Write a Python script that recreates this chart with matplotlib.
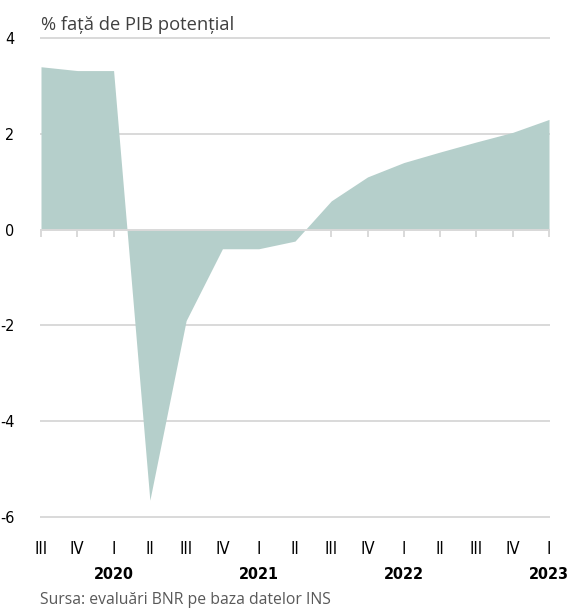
import matplotlib
matplotlib.use('Agg')
import matplotlib.pyplot as plt
import matplotlib.transforms as mtransforms

# date: deviatia PIB fata de potential, trimestrial
trimestre = ['III', 'IV', 'I', 'II', 'III', 'IV', 'I', 'II', 'III', 'IV', 'I', 'II', 'III', 'IV', 'I']
ani = ['2020', '2021', '2022', '2023']
ani_idx = [2, 6, 10, 14]
valori = [3.4, 3.32, 3.32, -5.65, -1.9, -0.4, -0.4, -0.24, 0.6, 1.1, 1.4, 1.62, 1.83, 2.03, 2.3]

narrow = dict(family='DejaVu Sans', stretch='condensed')
culoare = '#b5cfcb'
gri = '#d9d9d9'

fig = plt.figure(figsize=(5.69, 6.11), dpi=100)
ax = fig.add_axes([41/569, 1-517/611, (549-41)/569, (517-38)/611])

x = list(range(len(valori)))
ax.fill_between(x, valori, 0, color=culoare, linewidth=0, zorder=2)

ax.set_xlim(0, len(valori)-1)
ax.set_ylim(-6, 4)
for v in [4, 2, -2, -4, -6]:
    ax.axhline(v, color=gri, lw=1.4, zorder=1, clip_on=False)

for s in ['top', 'right', 'left']:
    ax.spines[s].set_visible(False)
ax.spines['bottom'].set_position(('data', 0))
ax.spines['bottom'].set_color(gri)
ax.spines['bottom'].set_linewidth(1.4)
ax.spines['bottom'].set_zorder(3)
ax.set_xticks(x)
ax.tick_params(axis='x', direction='out', length=5, width=1.4, color=gri, labelbottom=False)

ax.set_yticks([4, 2, 0, -2, -4, -6])
ax.set_yticklabels(['4', '2', '0', '-2', '-4', '-6'])
ax.tick_params(axis='y', length=0, pad=19, labelsize=11.5)
for t in ax.get_yticklabels():
    t.set_family('DejaVu Sans')
    t.set_stretch('condensed')
    t.set_color('#000000')

trans = mtransforms.blended_transform_factory(ax.transData, ax.transAxes)
for i, q in enumerate(trimestre):
    ax.text(i, -0.067, q, transform=trans, ha='center', va='center',
            fontsize=12, **narrow)
for i, a in zip(ani_idx, ani):
    ax.text(i, -0.119, a, transform=trans, ha='center', va='center',
            fontsize=11.5, fontweight='bold', **narrow)

fig.text(41/569, 1-25/611, '% față de PIB potențial', ha='left', va='center',
         fontsize=13.2, color='#404040', family=['Open Sans', 'DejaVu Sans'])
fig.text(40/569, 1-600/611, 'Sursa: evaluări BNR pe baza datelor INS', ha='left', va='center',
         fontsize=11.3, color='#595959', family=['Open Sans', 'DejaVu Sans'])

fig.savefig('out.png', dpi=100)
